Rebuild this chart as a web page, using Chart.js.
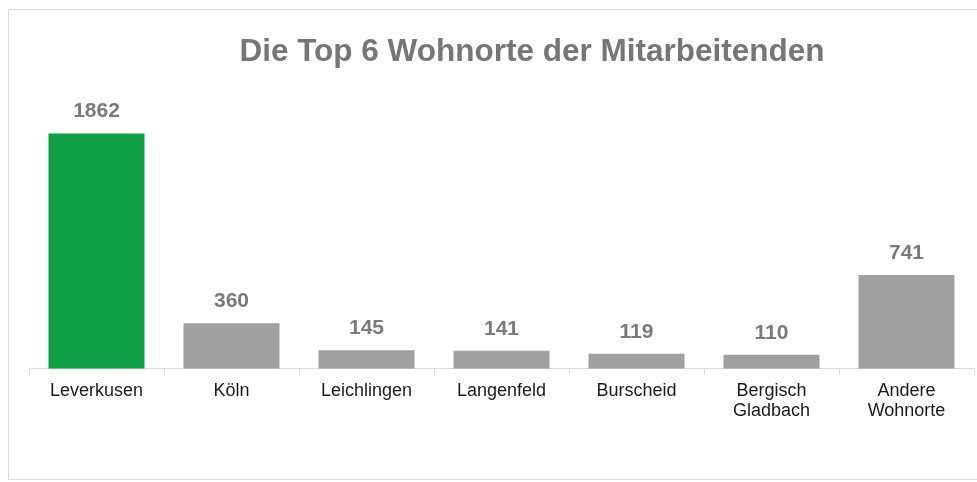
<!DOCTYPE html>
<html>
<head>
<meta charset="utf-8">
<script src="https://cdn.jsdelivr.net/npm/chart.js@4"></script>
<style>
  html, body { margin: 0; padding: 0; background: #fff; overflow: hidden; }
  #frame { position: absolute; left: 8px; top: 9px; width: 980px; height: 471px; border: 1px solid #d9d9d9; box-sizing: border-box; }
  #wrap { position: absolute; left: 0; top: 0; width: 977px; height: 482px; }
</style>
</head>
<body>
<div id="frame"></div>
<div id="wrap"><canvas id="myChart" width="977" height="482"></canvas></div>
<script>
const categories = ['Leverkusen', 'Köln', 'Leichlingen', 'Langenfeld', 'Burscheid', ['Bergisch', 'Gladbach'], ['Andere', 'Wohnorte']];
const values = [1862, 360, 145, 141, 119, 110, 741];
const barColors = ['#0fa046', '#a0a0a0', '#a0a0a0', '#a0a0a0', '#a0a0a0', '#a0a0a0', '#a0a0a0'];
const titleText = 'Die Top 6 Wohnorte der Mitarbeitenden';

// title drawn off-centre like in the original
const titlePlugin = {
  id: 'topTitle',
  afterDraw(chart) {
    const c = chart.ctx;
    c.save();
    c.font = 'bold 31.5px "Liberation Sans", Arial, sans-serif';
    c.fillStyle = '#767676';
    c.textAlign = 'center';
    c.textBaseline = 'alphabetic';
    c.fillText(titleText, 532, 61);
    c.restore();
  }
};

// value labels above bars
const valueLabels = {
  id: 'valueLabels',
  afterDatasetsDraw(chart) {
    const c = chart.ctx;
    const meta = chart.getDatasetMeta(0);
    c.save();
    c.font = 'bold 21px "Liberation Sans", Arial, sans-serif';
    c.fillStyle = '#7a7a7a';
    c.textAlign = 'center';
    c.textBaseline = 'alphabetic';
    meta.data.forEach((bar, i) => {
      c.fillText(values[i], bar.x, bar.y - 16);
    });
    c.restore();
  }
};

const ctx = document.getElementById('myChart');
const myChart = new Chart(ctx, {
  type: 'bar',
  data: {
    labels: categories,
    datasets: [{
      data: values,
      backgroundColor: barColors,
      barPercentage: 0.711,
      categoryPercentage: 1
    }]
  },
  options: {
    responsive: false,
    animation: false,
    layout: { padding: { left: 29, right: 3, top: 116, bottom: 55 } },
    plugins: {
      legend: { display: false },
      tooltip: { enabled: false },
      title: { display: false }
    },
    scales: {
      x: {
        grid: {
          offset: true,
          drawOnChartArea: false,
          drawTicks: true,
          tickLength: 6,
          color: '#d9d9d9'
        },
        border: { color: '#d9d9d9', width: 1 },
        ticks: {
          color: '#1a1a1a',
          padding: 6,
          maxRotation: 0,
          autoSkip: false,
          font: { family: '"Liberation Sans", Arial, sans-serif', size: 18, lineHeight: 1.12 }
        }
      },
      y: {
        display: false,
        min: 0,
        max: 2000
      }
    }
  },
  plugins: [titlePlugin, valueLabels]
});
</script>
</body>
</html>
